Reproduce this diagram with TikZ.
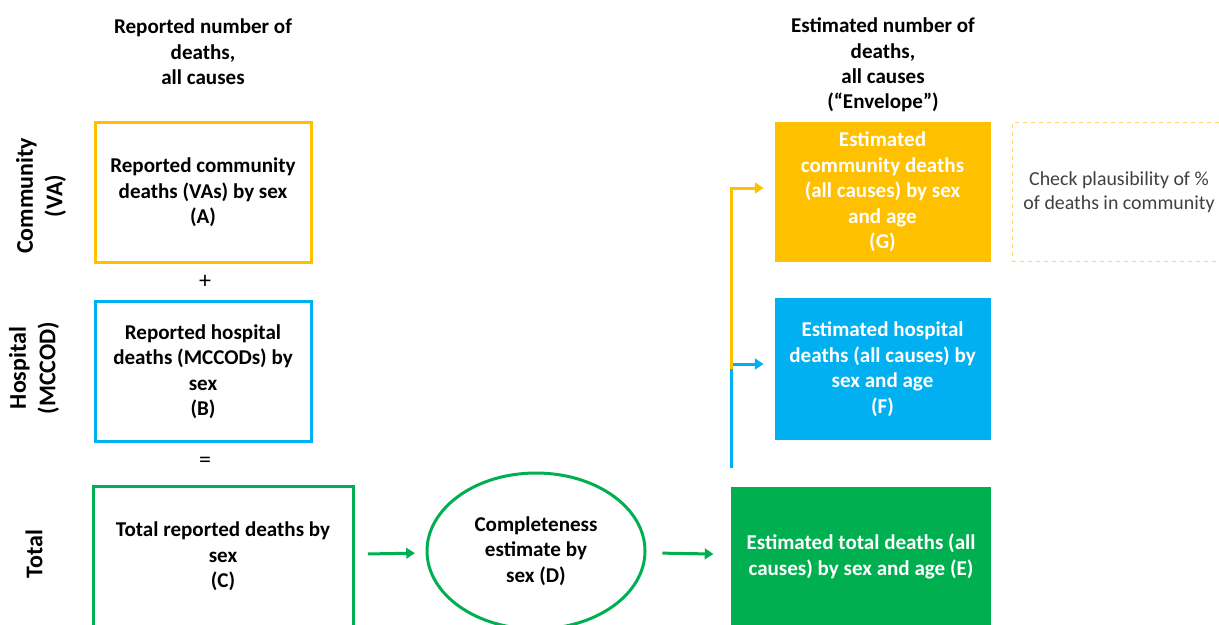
\documentclass[tikz,border=0pt]{standalone}
\usepackage{fontspec}
\setmainfont{Carlito}
\usetikzlibrary{shapes.geometric,arrows.meta}
\definecolor{vaorange}{HTML}{FFC000}
\definecolor{hospblue}{HTML}{00B0F0}
\definecolor{totgreen}{HTML}{00B050}
\definecolor{notegray}{HTML}{404040}

\tikzset{
  txt/.style={font=\fontsize{15.8}{19.1}\selectfont\bfseries, align=center},
  rowlabel/.style={font=\fontsize{18}{22}\selectfont\bfseries, align=center, rotate=90},
  opsign/.style={font=\fontsize{18}{22}\selectfont},
  repbox/.style={txt, draw, line width=2.25pt, minimum width=162pt, minimum height=105pt},
  estbox/.style={txt, text=white, minimum width=162pt, minimum height=105pt},
  flowarrow/.style={line width=2.25pt, -{Triangle[length=6.5pt,width=8pt]}},
}

\begin{document}
\begin{tikzpicture}[x=0.75pt,y=-0.75pt]
\useasboundingbox (0,0) rectangle (1219,624);
\clip (0,0) rectangle (1219,624);

% column headers
\node[txt] (hrep) at (203,52) {Reported number of\\deaths,\\all causes};
\node[txt] (hest) at (883,65) {Estimated number of\\deaths,\\all causes\\(“Envelope”)};

% row labels
\node[rowlabel] (rcom) at (41,196) {Community\\(VA)};
\node[rowlabel] (rhosp) at (34,368) {Hospital\\(MCCOD)};
\node[rowlabel] (rtot) at (34,554) {Total};

% reported deaths
\node[repbox, draw=vaorange] (A) at (203,192.5) {Reported community\\deaths (VAs) by sex\\(A)};
\node[opsign] (plus) at (205,282) {+};
\node[repbox, draw=hospblue] (B) at (203,371.5) {Reported hospital\\deaths (MCCODs) by\\sex\\(B)};
\node[opsign] (eq) at (205,462) {=};
\node[repbox, draw=totgreen, minimum width=195pt] (C) at (223,556.5) {Total reported deaths by\\sex\\(C)};

% completeness
\node[txt, ellipse, draw=totgreen, line width=2.25pt, minimum width=163.5pt, minimum height=117pt] (D) at (536,551) {Completeness\\estimate by\\sex (D)};

% estimated deaths
\node[estbox, fill=totgreen, minimum width=195pt] (E) at (861,556.5) {Estimated total deaths (all\\causes) by sex and age (E)};
\node[estbox, fill=hospblue, minimum height=106.5pt] (F) at (882.5,369) {Estimated hospital\\deaths (all causes) by\\sex and age\\(F)};
\node[estbox, fill=vaorange] (G) at (882.5,192) {Estimated\\community deaths\\(all causes) by sex\\and age\\(G)};
\node[draw=vaorange!60, dashed, line width=0.75pt, minimum width=160.5pt, minimum height=104pt,
  font=\fontsize{14.9}{18}\selectfont, text=notegray, align=center] (chk) at (1119,192)
  {Check plausibility of \%\\of deaths in community};

% arrows
\draw[flowarrow, totgreen, shorten <=10pt, shorten >=8pt] (C) -- (D);
\draw[flowarrow, totgreen, shorten <=12pt, shorten >=13pt] (D) -- (E);
\coordinate (split) at (731,468);
\draw[flowarrow, hospblue, shorten >=8pt] (split) |- ([yshift=3.75pt]F.west);
\draw[flowarrow, vaorange, shorten >=8pt] (split |- F.west) |- ([yshift=3pt]G.west);
\end{tikzpicture}
\end{document}
